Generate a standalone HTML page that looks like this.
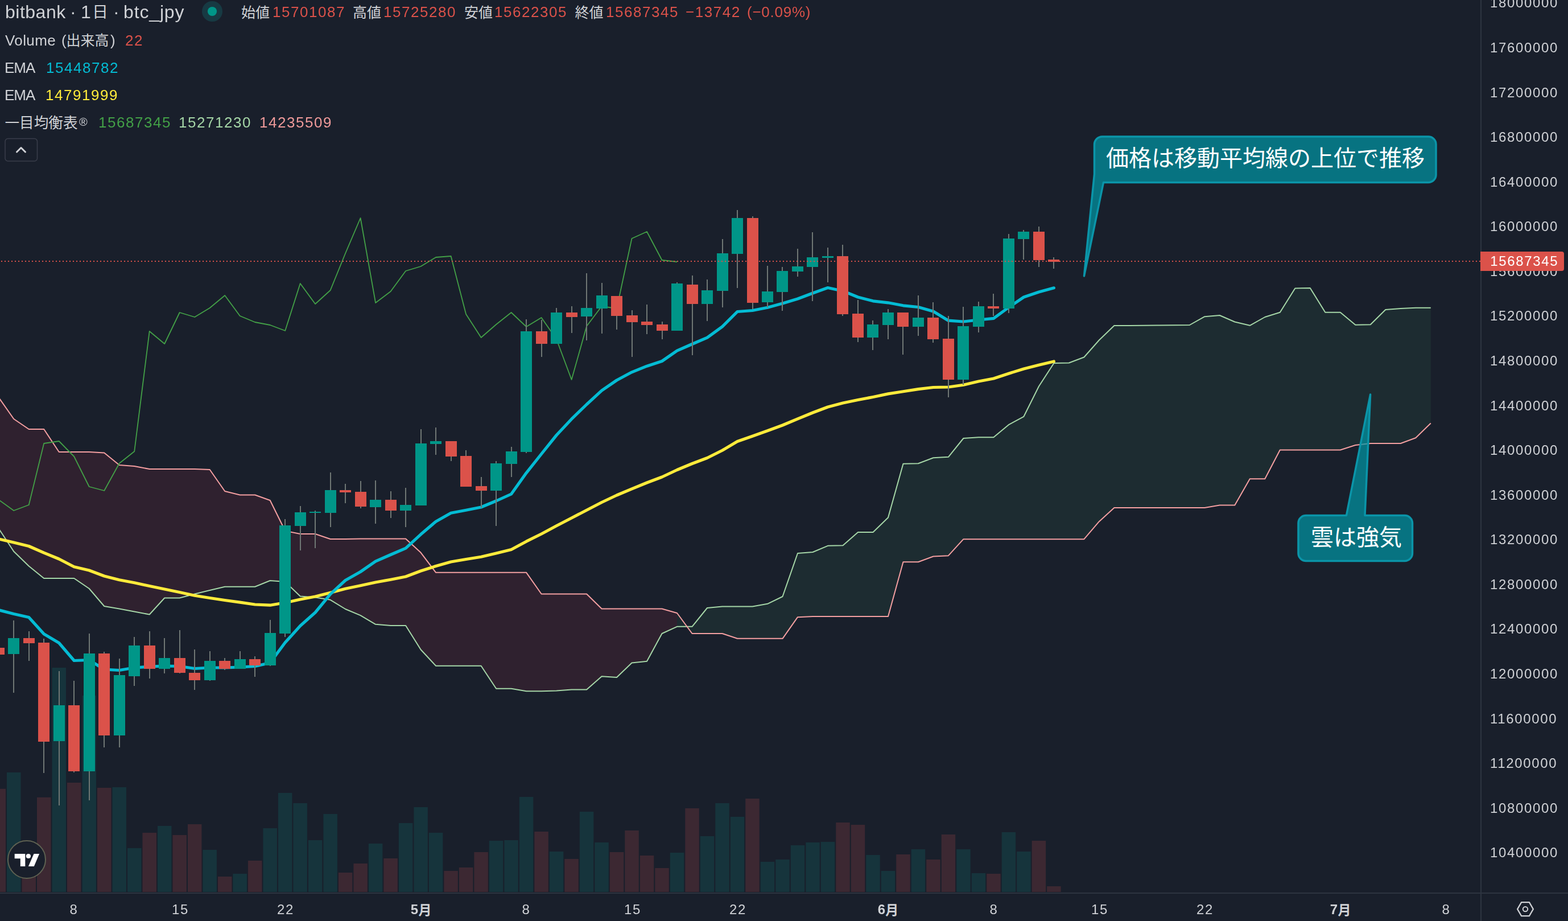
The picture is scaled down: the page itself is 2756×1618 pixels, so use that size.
<!DOCTYPE html>
<html lang="ja"><head><meta charset="utf-8"><title>bitbank btc_jpy 1D chart</title>
<style>
html,body{margin:0;padding:0;background:#191f2b;}
body{width:2756px;height:1618px;overflow:hidden;position:relative;font-family:"Liberation Sans",sans-serif;color:#d0d2d6;}
#chart{position:absolute;left:0;top:0;}
#chart text{font-family:"Liberation Sans","Noto Sans CJK JP",sans-serif;}
.t{position:absolute;white-space:nowrap;line-height:1;will-change:transform;}
.h1{font-size:32px;top:4px;}
.l{font-size:26px;letter-spacing:1.55px;}
.ax{font-size:24px;letter-spacing:1.65px;left:2619.3px;}
.tm{font-size:24px;letter-spacing:1.6px;top:1586px;transform:translateX(-50%);margin-left:0.6px;}
.red{color:#db524a}.cy{color:#04bcd4}.ye{color:#ffeb3b}.dg{color:#43a047}.lg{color:#a5d6a7}.pk{color:#ef9a9a}
</style></head><body>
<svg id="chart" width="2756" height="1618" viewBox="0 0 2756 1618">
<rect width="2756" height="1618" fill="#191f2b"/>
<defs><clipPath id="pane"><rect x="0" y="0" width="2602" height="1567"/></clipPath></defs>
<g clip-path="url(#pane)">
<polygon points="-2.2,928.6 24.2,968.8 50.7,994.5 77.2,1016.0 103.7,1016.0 130.2,1016.0 156.7,1034.0 183.2,1065.0 209.7,1069.5 236.2,1074.5 262.7,1079.5 289.2,1050.5 315.7,1050.5 342.2,1043.5 368.7,1037.0 395.2,1030.8 421.7,1030.8 448.2,1030.8 474.7,1020.0 501.2,1022.0 527.7,1047.5 554.1,1049.5 580.6,1053.8 607.1,1070.0 633.6,1081.2 660.1,1096.8 686.6,1099.0 713.1,1099.0 739.6,1141.2 766.1,1169.8 792.6,1169.8 819.1,1169.8 845.6,1169.8 872.1,1209.8 898.6,1209.8 925.1,1214.2 951.6,1214.2 978.1,1213.5 1004.6,1211.5 1031.1,1211.5 1057.6,1188.2 1084.0,1190.0 1110.5,1164.5 1137.0,1161.8 1163.5,1113.0 1190.0,1100.8 1190.0,1077.0 1163.5,1069.5 1137.0,1069.5 1110.5,1069.5 1084.0,1069.5 1057.6,1069.5 1031.1,1043.5 1004.6,1043.5 978.1,1043.5 951.6,1043.5 925.1,1005.8 898.6,1005.8 872.1,1005.8 845.6,1005.8 819.1,1005.8 792.6,1005.8 766.1,1005.8 739.6,970.8 713.1,946.5 686.6,946.5 660.1,946.5 633.6,946.5 607.1,947.0 580.6,947.0 554.1,938.0 527.7,938.0 501.2,932.5 474.7,879.0 448.2,869.5 421.7,869.5 395.2,863.0 368.7,825.0 342.2,824.0 315.7,824.0 289.2,824.0 262.7,824.0 236.2,819.0 209.7,817.0 183.2,795.5 156.7,794.0 130.2,794.0 103.7,794.0 77.2,754.0 50.7,754.0 24.2,736.0 -2.2,698.4" fill="#2f212f"/>
<polygon points="1190.0,1100.8 1216.5,1100.8 1243.0,1068.0 1269.5,1065.5 1296.0,1065.5 1322.5,1065.5 1349.0,1060.8 1375.5,1048.0 1402.0,972.0 1428.5,970.0 1455.0,958.8 1481.5,958.2 1508.0,935.0 1534.5,935.0 1561.0,909.2 1587.5,814.8 1614.0,814.2 1640.4,804.2 1666.9,802.8 1693.4,770.0 1719.9,768.2 1746.4,768.2 1772.9,746.2 1799.4,731.8 1825.9,678.8 1852.4,638.0 1878.9,637.5 1905.4,627.5 1931.9,597.5 1958.4,572.0 1984.9,572.0 2011.4,571.8 2037.9,571.5 2064.4,571.2 2090.9,571.0 2117.4,556.2 2143.8,554.0 2170.3,565.5 2196.8,571.8 2223.3,557.0 2249.8,548.8 2276.3,506.5 2302.8,506.0 2329.3,548.8 2355.8,548.8 2382.3,570.8 2408.8,570.2 2435.3,544.0 2461.8,542.0 2488.3,540.8 2514.8,540.8 2514.8,743.5 2488.3,769.2 2461.8,779.0 2435.3,779.0 2408.8,779.0 2382.3,782.0 2355.8,790.5 2329.3,790.5 2302.8,790.5 2276.3,790.5 2249.8,790.5 2223.3,841.2 2196.8,841.2 2170.3,887.5 2143.8,887.5 2117.4,892.0 2090.9,892.0 2064.4,892.0 2037.9,892.0 2011.4,892.0 1984.9,892.0 1958.4,892.0 1931.9,916.2 1905.4,947.2 1878.9,947.2 1852.4,947.2 1825.9,947.2 1799.4,947.2 1772.9,947.2 1746.4,947.2 1719.9,947.2 1693.4,947.2 1666.9,976.2 1640.4,977.5 1614.0,987.2 1587.5,987.2 1561.0,1083.0 1534.5,1083.0 1508.0,1083.0 1481.5,1083.0 1455.0,1083.0 1428.5,1083.0 1402.0,1084.2 1375.5,1121.8 1349.0,1121.8 1322.5,1121.8 1296.0,1121.8 1269.5,1113.0 1243.0,1113.0 1216.5,1113.0 1190.0,1077.0" fill="#1d2c31"/>
<rect x="-14.50" y="1385.8" width="24.5" height="181.2" fill="#3c2832"/>
<rect x="12.00" y="1357.0" width="24.5" height="210.0" fill="#16343c"/>
<rect x="38.49" y="1500.0" width="24.5" height="67.0" fill="#3c2832"/>
<rect x="64.99" y="1400.8" width="24.5" height="166.2" fill="#3c2832"/>
<rect x="91.48" y="1173.0" width="24.5" height="394.0" fill="#16343c"/>
<rect x="117.98" y="1375.0" width="24.5" height="192.0" fill="#3c2832"/>
<rect x="144.47" y="1222.0" width="24.5" height="345.0" fill="#16343c"/>
<rect x="170.97" y="1384.0" width="24.5" height="183.0" fill="#3c2832"/>
<rect x="197.46" y="1383.0" width="24.5" height="184.0" fill="#16343c"/>
<rect x="223.96" y="1490.0" width="24.5" height="77.0" fill="#16343c"/>
<rect x="250.45" y="1463.0" width="24.5" height="104.0" fill="#3c2832"/>
<rect x="276.95" y="1451.0" width="24.5" height="116.0" fill="#16343c"/>
<rect x="303.44" y="1467.0" width="24.5" height="100.0" fill="#3c2832"/>
<rect x="329.94" y="1448.0" width="24.5" height="119.0" fill="#3c2832"/>
<rect x="356.44" y="1493.0" width="24.5" height="74.0" fill="#16343c"/>
<rect x="382.93" y="1540.0" width="24.5" height="27.0" fill="#3c2832"/>
<rect x="409.42" y="1535.0" width="24.5" height="32.0" fill="#16343c"/>
<rect x="435.92" y="1512.0" width="24.5" height="55.0" fill="#3c2832"/>
<rect x="462.41" y="1455.0" width="24.5" height="112.0" fill="#16343c"/>
<rect x="488.91" y="1393.0" width="24.5" height="174.0" fill="#16343c"/>
<rect x="515.40" y="1411.0" width="24.5" height="156.0" fill="#16343c"/>
<rect x="541.90" y="1476.0" width="24.5" height="91.0" fill="#16343c"/>
<rect x="568.39" y="1430.0" width="24.5" height="137.0" fill="#16343c"/>
<rect x="594.89" y="1533.0" width="24.5" height="34.0" fill="#3c2832"/>
<rect x="621.38" y="1517.0" width="24.5" height="50.0" fill="#3c2832"/>
<rect x="647.88" y="1482.0" width="24.5" height="85.0" fill="#16343c"/>
<rect x="674.38" y="1508.0" width="24.5" height="59.0" fill="#3c2832"/>
<rect x="700.87" y="1446.0" width="24.5" height="121.0" fill="#16343c"/>
<rect x="727.37" y="1418.0" width="24.5" height="149.0" fill="#16343c"/>
<rect x="753.86" y="1463.0" width="24.5" height="104.0" fill="#16343c"/>
<rect x="780.36" y="1530.0" width="24.5" height="37.0" fill="#3c2832"/>
<rect x="806.85" y="1524.0" width="24.5" height="43.0" fill="#3c2832"/>
<rect x="833.35" y="1497.0" width="24.5" height="70.0" fill="#3c2832"/>
<rect x="859.84" y="1477.0" width="24.5" height="90.0" fill="#16343c"/>
<rect x="886.34" y="1476.0" width="24.5" height="91.0" fill="#16343c"/>
<rect x="912.83" y="1400.0" width="24.5" height="167.0" fill="#16343c"/>
<rect x="939.33" y="1461.0" width="24.5" height="106.0" fill="#3c2832"/>
<rect x="965.82" y="1496.0" width="24.5" height="71.0" fill="#16343c"/>
<rect x="992.32" y="1509.0" width="24.5" height="58.0" fill="#3c2832"/>
<rect x="1018.81" y="1426.0" width="24.5" height="141.0" fill="#16343c"/>
<rect x="1045.31" y="1480.0" width="24.5" height="87.0" fill="#16343c"/>
<rect x="1071.80" y="1497.0" width="24.5" height="70.0" fill="#3c2832"/>
<rect x="1098.30" y="1459.0" width="24.5" height="108.0" fill="#3c2832"/>
<rect x="1124.79" y="1503.0" width="24.5" height="64.0" fill="#3c2832"/>
<rect x="1151.29" y="1525.0" width="24.5" height="42.0" fill="#3c2832"/>
<rect x="1177.78" y="1498.0" width="24.5" height="69.0" fill="#16343c"/>
<rect x="1204.28" y="1420.0" width="24.5" height="147.0" fill="#3c2832"/>
<rect x="1230.77" y="1469.0" width="24.5" height="98.0" fill="#16343c"/>
<rect x="1257.27" y="1411.0" width="24.5" height="156.0" fill="#16343c"/>
<rect x="1283.76" y="1435.0" width="24.5" height="132.0" fill="#16343c"/>
<rect x="1310.26" y="1403.0" width="24.5" height="164.0" fill="#3c2832"/>
<rect x="1336.75" y="1514.0" width="24.5" height="53.0" fill="#16343c"/>
<rect x="1363.25" y="1510.0" width="24.5" height="57.0" fill="#16343c"/>
<rect x="1389.74" y="1485.0" width="24.5" height="82.0" fill="#16343c"/>
<rect x="1416.24" y="1480.0" width="24.5" height="87.0" fill="#16343c"/>
<rect x="1442.73" y="1479.0" width="24.5" height="88.0" fill="#16343c"/>
<rect x="1469.23" y="1445.0" width="24.5" height="122.0" fill="#3c2832"/>
<rect x="1495.72" y="1449.0" width="24.5" height="118.0" fill="#3c2832"/>
<rect x="1522.22" y="1502.0" width="24.5" height="65.0" fill="#16343c"/>
<rect x="1548.71" y="1530.0" width="24.5" height="37.0" fill="#16343c"/>
<rect x="1575.21" y="1501.0" width="24.5" height="66.0" fill="#3c2832"/>
<rect x="1601.70" y="1492.0" width="24.5" height="75.0" fill="#16343c"/>
<rect x="1628.20" y="1510.0" width="24.5" height="57.0" fill="#3c2832"/>
<rect x="1654.69" y="1466.0" width="24.5" height="101.0" fill="#3c2832"/>
<rect x="1681.19" y="1492.0" width="24.5" height="75.0" fill="#16343c"/>
<rect x="1707.68" y="1534.0" width="24.5" height="33.0" fill="#16343c"/>
<rect x="1734.18" y="1535.0" width="24.5" height="32.0" fill="#3c2832"/>
<rect x="1760.67" y="1462.0" width="24.5" height="105.0" fill="#16343c"/>
<rect x="1787.17" y="1496.0" width="24.5" height="71.0" fill="#16343c"/>
<rect x="1813.66" y="1477.0" width="24.5" height="90.0" fill="#3c2832"/>
<rect x="1840.15" y="1557.0" width="24.5" height="10.0" fill="#3c2832"/>
<polyline points="-2.2,928.6 24.2,968.8 50.7,994.5 77.2,1016.0 103.7,1016.0 130.2,1016.0 156.7,1034.0 183.2,1065.0 209.7,1069.5 236.2,1074.5 262.7,1079.5 289.2,1050.5 315.7,1050.5 342.2,1043.5 368.7,1037.0 395.2,1030.8 421.7,1030.8 448.2,1030.8 474.7,1020.0 501.2,1022.0 527.7,1047.5 554.1,1049.5 580.6,1053.8 607.1,1070.0 633.6,1081.2 660.1,1096.8 686.6,1099.0 713.1,1099.0 739.6,1141.2 766.1,1169.8 792.6,1169.8 819.1,1169.8 845.6,1169.8 872.1,1209.8 898.6,1209.8 925.1,1214.2 951.6,1214.2 978.1,1213.5 1004.6,1211.5 1031.1,1211.5 1057.6,1188.2 1084.0,1190.0 1110.5,1164.5 1137.0,1161.8 1163.5,1113.0 1190.0,1100.8 1216.5,1100.8 1243.0,1068.0 1269.5,1065.5 1296.0,1065.5 1322.5,1065.5 1349.0,1060.8 1375.5,1048.0 1402.0,972.0 1428.5,970.0 1455.0,958.8 1481.5,958.2 1508.0,935.0 1534.5,935.0 1561.0,909.2 1587.5,814.8 1614.0,814.2 1640.4,804.2 1666.9,802.8 1693.4,770.0 1719.9,768.2 1746.4,768.2 1772.9,746.2 1799.4,731.8 1825.9,678.8 1852.4,638.0 1878.9,637.5 1905.4,627.5 1931.9,597.5 1958.4,572.0 1984.9,572.0 2011.4,571.8 2037.9,571.5 2064.4,571.2 2090.9,571.0 2117.4,556.2 2143.8,554.0 2170.3,565.5 2196.8,571.8 2223.3,557.0 2249.8,548.8 2276.3,506.5 2302.8,506.0 2329.3,548.8 2355.8,548.8 2382.3,570.8 2408.8,570.2 2435.3,544.0 2461.8,542.0 2488.3,540.8 2514.8,540.8" fill="none" stroke="#a5d6a7" stroke-width="2" stroke-linejoin="round" />
<polyline points="-2.2,698.4 24.2,736.0 50.7,754.0 77.2,754.0 103.7,794.0 130.2,794.0 156.7,794.0 183.2,795.5 209.7,817.0 236.2,819.0 262.7,824.0 289.2,824.0 315.7,824.0 342.2,824.0 368.7,825.0 395.2,863.0 421.7,869.5 448.2,869.5 474.7,879.0 501.2,932.5 527.7,938.0 554.1,938.0 580.6,947.0 607.1,947.0 633.6,946.5 660.1,946.5 686.6,946.5 713.1,946.5 739.6,970.8 766.1,1005.8 792.6,1005.8 819.1,1005.8 845.6,1005.8 872.1,1005.8 898.6,1005.8 925.1,1005.8 951.6,1043.5 978.1,1043.5 1004.6,1043.5 1031.1,1043.5 1057.6,1069.5 1084.0,1069.5 1110.5,1069.5 1137.0,1069.5 1163.5,1069.5 1190.0,1077.0 1216.5,1113.0 1243.0,1113.0 1269.5,1113.0 1296.0,1121.8 1322.5,1121.8 1349.0,1121.8 1375.5,1121.8 1402.0,1084.2 1428.5,1083.0 1455.0,1083.0 1481.5,1083.0 1508.0,1083.0 1534.5,1083.0 1561.0,1083.0 1587.5,987.2 1614.0,987.2 1640.4,977.5 1666.9,976.2 1693.4,947.2 1719.9,947.2 1746.4,947.2 1772.9,947.2 1799.4,947.2 1825.9,947.2 1852.4,947.2 1878.9,947.2 1905.4,947.2 1931.9,916.2 1958.4,892.0 1984.9,892.0 2011.4,892.0 2037.9,892.0 2064.4,892.0 2090.9,892.0 2117.4,892.0 2143.8,887.5 2170.3,887.5 2196.8,841.2 2223.3,841.2 2249.8,790.5 2276.3,790.5 2302.8,790.5 2329.3,790.5 2355.8,790.5 2382.3,782.0 2408.8,779.0 2435.3,779.0 2461.8,779.0 2488.3,769.2 2514.8,743.5" fill="none" stroke="#f49fa1" stroke-width="2" stroke-linejoin="round" />
<polyline points="-2.2,878.0 24.2,897.0 50.7,887.0 77.2,779.0 103.7,775.0 130.2,802.0 156.7,855.0 183.2,862.0 209.7,814.0 236.2,793.0 262.7,582.0 289.2,604.0 315.7,549.0 342.2,557.0 368.7,541.0 395.2,519.0 421.7,555.0 448.2,566.0 474.7,571.0 501.2,581.0 527.7,498.0 554.1,534.0 580.6,510.0 607.1,445.0 633.6,383.0 660.1,532.0 686.6,512.0 713.1,476.0 739.6,468.0 766.1,452.0 792.6,450.0 819.1,552.0 845.6,593.0 872.1,570.0 898.6,549.0 925.1,574.0 951.6,558.0 978.1,596.0 1004.6,667.0 1031.1,573.0 1057.6,538.0 1084.0,542.0 1110.5,419.0 1137.0,407.0 1163.5,457.0 1190.0,460.0" fill="none" stroke="#43a047" stroke-width="1.8" stroke-linejoin="round"/>
<polyline points="-2.2,946.8 24.2,953.0 50.7,959.5 77.2,971.2 103.7,982.0 130.2,995.8 156.7,1002.0 183.2,1012.0 209.7,1018.8 236.2,1023.8 262.7,1029.5 289.2,1035.0 315.7,1040.5 342.2,1046.2 368.7,1050.5 395.2,1054.5 421.7,1058.2 448.2,1062.0 474.7,1063.2 501.2,1058.8 527.7,1053.0 554.1,1048.0 580.6,1041.2 607.1,1034.2 633.6,1028.8 660.1,1023.0 686.6,1018.2 713.1,1013.0 739.6,1003.0 766.1,994.5 792.6,987.0 819.1,982.5 845.6,978.2 872.1,972.0 898.6,965.5 925.1,951.2 951.6,938.0 978.1,923.8 1004.6,910.0 1031.1,896.2 1057.6,882.5 1084.0,870.0 1110.5,858.8 1137.0,848.0 1163.5,838.0 1190.0,825.5 1216.5,814.5 1243.0,804.5 1269.5,791.2 1296.0,775.5 1322.5,766.2 1349.0,756.8 1375.5,747.0 1402.0,735.8 1428.5,725.0 1455.0,715.0 1481.5,708.0 1508.0,702.5 1534.5,697.5 1561.0,691.9 1587.5,687.8 1614.0,683.6 1640.4,680.5 1666.9,680.0 1693.4,676.2 1719.9,670.0 1746.4,665.0 1772.9,656.2 1799.4,648.0 1825.9,641.2 1852.4,635.0" fill="none" stroke="#ffeb3b" stroke-width="5.2" stroke-linejoin="round" stroke-linecap="round"/>
<polyline points="-2.2,1071.7 24.2,1078.5 50.7,1084.5 77.2,1113.8 103.7,1129.5 130.2,1160.5 156.7,1159.5 183.2,1176.0 209.7,1177.5 236.2,1173.0 262.7,1171.2 289.2,1170.0 315.7,1170.5 342.2,1174.5 368.7,1173.0 395.2,1173.0 421.7,1172.0 448.2,1170.5 474.7,1164.5 501.2,1128.8 527.7,1099.5 554.1,1076.0 580.6,1043.8 607.1,1019.5 633.6,1004.5 660.1,986.2 686.6,974.5 713.1,963.2 739.6,938.8 766.1,916.2 792.6,901.2 819.1,896.2 845.6,891.0 872.1,880.0 898.6,868.0 925.1,830.8 951.6,797.5 978.1,764.5 1004.6,736.2 1031.1,710.5 1057.6,686.2 1084.0,668.0 1110.5,653.8 1137.0,643.2 1163.5,634.5 1190.0,616.2 1216.5,604.5 1243.0,593.2 1269.5,573.8 1296.0,547.5 1322.5,545.5 1349.0,540.3 1375.5,533.0 1402.0,525.0 1428.5,515.0 1455.0,505.5 1481.5,511.2 1508.0,522.0 1534.5,528.8 1561.0,531.8 1587.5,536.8 1614.0,539.5 1640.4,547.0 1666.9,563.2 1693.4,565.0 1719.9,562.0 1746.4,559.3 1772.9,540.0 1799.4,522.0 1825.9,513.0 1852.4,505.8" fill="none" stroke="#04bcd4" stroke-width="5.2" stroke-linejoin="round" stroke-linecap="round"/>
<rect x="-3" y="1138" width="2" height="12" fill="#6f7774"/>
<rect x="-12" y="1138" width="20" height="12" fill="#db524a"/>
<rect x="23" y="1090" width="2" height="127" fill="#6f7774"/>
<rect x="14" y="1121" width="20" height="28" fill="#009688"/>
<rect x="50" y="1109" width="2" height="52" fill="#6f7774"/>
<rect x="41" y="1121" width="20" height="9" fill="#db524a"/>
<rect x="76" y="1122" width="2" height="236" fill="#6f7774"/>
<rect x="67" y="1129" width="20" height="174" fill="#db524a"/>
<rect x="103" y="1179" width="2" height="236" fill="#6f7774"/>
<rect x="94" y="1239" width="20" height="63" fill="#009688"/>
<rect x="129" y="1196" width="2" height="161" fill="#6f7774"/>
<rect x="120" y="1239" width="20" height="116" fill="#db524a"/>
<rect x="156" y="1113" width="2" height="293" fill="#6f7774"/>
<rect x="147" y="1148" width="20" height="207" fill="#009688"/>
<rect x="182" y="1145" width="2" height="168" fill="#6f7774"/>
<rect x="173" y="1148" width="20" height="144" fill="#db524a"/>
<rect x="209" y="1157" width="2" height="156" fill="#6f7774"/>
<rect x="200" y="1186" width="20" height="106" fill="#009688"/>
<rect x="235" y="1119" width="2" height="86" fill="#6f7774"/>
<rect x="226" y="1134" width="20" height="54" fill="#009688"/>
<rect x="262" y="1109" width="2" height="83" fill="#6f7774"/>
<rect x="253" y="1134" width="20" height="41" fill="#db524a"/>
<rect x="288" y="1121" width="2" height="62" fill="#6f7774"/>
<rect x="279" y="1156" width="20" height="19" fill="#009688"/>
<rect x="315" y="1107" width="2" height="76" fill="#6f7774"/>
<rect x="306" y="1156" width="20" height="26" fill="#db524a"/>
<rect x="341" y="1141" width="2" height="71" fill="#6f7774"/>
<rect x="332" y="1182" width="20" height="13" fill="#db524a"/>
<rect x="368" y="1144" width="2" height="52" fill="#6f7774"/>
<rect x="359" y="1161" width="20" height="34" fill="#009688"/>
<rect x="394" y="1156" width="2" height="21" fill="#6f7774"/>
<rect x="385" y="1161" width="20" height="14" fill="#db524a"/>
<rect x="421" y="1144" width="2" height="31" fill="#6f7774"/>
<rect x="412" y="1158" width="20" height="17" fill="#009688"/>
<rect x="447" y="1153" width="2" height="36" fill="#6f7774"/>
<rect x="438" y="1158" width="20" height="11" fill="#db524a"/>
<rect x="474" y="1089" width="2" height="81" fill="#6f7774"/>
<rect x="465" y="1112" width="20" height="57" fill="#009688"/>
<rect x="500" y="912" width="2" height="207" fill="#6f7774"/>
<rect x="491" y="923" width="20" height="190" fill="#009688"/>
<rect x="527" y="889" width="2" height="78" fill="#6f7774"/>
<rect x="518" y="900" width="20" height="24" fill="#009688"/>
<rect x="553" y="897" width="2" height="66" fill="#6f7774"/>
<rect x="544" y="899" width="20" height="2" fill="#009688"/>
<rect x="580" y="830" width="2" height="96" fill="#6f7774"/>
<rect x="571" y="861" width="20" height="40" fill="#009688"/>
<rect x="606" y="850" width="2" height="34" fill="#6f7774"/>
<rect x="597" y="861" width="20" height="4" fill="#db524a"/>
<rect x="633" y="845" width="2" height="48" fill="#6f7774"/>
<rect x="624" y="864" width="20" height="26" fill="#db524a"/>
<rect x="659" y="844" width="2" height="76" fill="#6f7774"/>
<rect x="650" y="878" width="20" height="13" fill="#009688"/>
<rect x="686" y="863" width="2" height="47" fill="#6f7774"/>
<rect x="677" y="878" width="20" height="19" fill="#db524a"/>
<rect x="712" y="857" width="2" height="69" fill="#6f7774"/>
<rect x="703" y="887" width="20" height="10" fill="#009688"/>
<rect x="739" y="754" width="2" height="134" fill="#6f7774"/>
<rect x="730" y="779" width="20" height="109" fill="#009688"/>
<rect x="765" y="751" width="2" height="48" fill="#6f7774"/>
<rect x="756" y="775" width="20" height="5" fill="#009688"/>
<rect x="792" y="775" width="2" height="35" fill="#6f7774"/>
<rect x="783" y="775" width="20" height="27" fill="#db524a"/>
<rect x="818" y="791" width="2" height="64" fill="#6f7774"/>
<rect x="809" y="801" width="20" height="54" fill="#db524a"/>
<rect x="845" y="838" width="2" height="54" fill="#6f7774"/>
<rect x="836" y="854" width="20" height="8" fill="#db524a"/>
<rect x="871" y="810" width="2" height="114" fill="#6f7774"/>
<rect x="862" y="814" width="20" height="48" fill="#009688"/>
<rect x="898" y="785" width="2" height="53" fill="#6f7774"/>
<rect x="889" y="793" width="20" height="22" fill="#009688"/>
<rect x="924" y="561" width="2" height="235" fill="#6f7774"/>
<rect x="915" y="582" width="20" height="212" fill="#009688"/>
<rect x="951" y="562" width="2" height="65" fill="#6f7774"/>
<rect x="942" y="582" width="20" height="22" fill="#db524a"/>
<rect x="977" y="541" width="2" height="63" fill="#6f7774"/>
<rect x="968" y="549" width="20" height="55" fill="#009688"/>
<rect x="1004" y="538" width="2" height="47" fill="#6f7774"/>
<rect x="995" y="549" width="20" height="8" fill="#db524a"/>
<rect x="1030" y="480" width="2" height="118" fill="#6f7774"/>
<rect x="1021" y="541" width="20" height="15" fill="#009688"/>
<rect x="1057" y="497" width="2" height="89" fill="#6f7774"/>
<rect x="1048" y="519" width="20" height="23" fill="#009688"/>
<rect x="1083" y="520" width="2" height="59" fill="#6f7774"/>
<rect x="1074" y="520" width="20" height="35" fill="#db524a"/>
<rect x="1110" y="545" width="2" height="82" fill="#6f7774"/>
<rect x="1101" y="554" width="20" height="12" fill="#db524a"/>
<rect x="1136" y="535" width="2" height="52" fill="#6f7774"/>
<rect x="1127" y="565" width="20" height="6" fill="#db524a"/>
<rect x="1163" y="565" width="2" height="31" fill="#6f7774"/>
<rect x="1154" y="570" width="20" height="11" fill="#db524a"/>
<rect x="1189" y="496" width="2" height="85" fill="#6f7774"/>
<rect x="1180" y="498" width="20" height="83" fill="#009688"/>
<rect x="1216" y="484" width="2" height="140" fill="#6f7774"/>
<rect x="1207" y="500" width="20" height="34" fill="#db524a"/>
<rect x="1242" y="491" width="2" height="73" fill="#6f7774"/>
<rect x="1233" y="510" width="20" height="24" fill="#009688"/>
<rect x="1269" y="420" width="2" height="120" fill="#6f7774"/>
<rect x="1260" y="445" width="20" height="66" fill="#009688"/>
<rect x="1295" y="369" width="2" height="137" fill="#6f7774"/>
<rect x="1286" y="383" width="20" height="63" fill="#009688"/>
<rect x="1322" y="380" width="2" height="163" fill="#6f7774"/>
<rect x="1313" y="383" width="20" height="149" fill="#db524a"/>
<rect x="1348" y="467" width="2" height="73" fill="#6f7774"/>
<rect x="1339" y="512" width="20" height="19" fill="#009688"/>
<rect x="1374" y="469" width="2" height="77" fill="#6f7774"/>
<rect x="1365" y="476" width="20" height="37" fill="#009688"/>
<rect x="1401" y="437" width="2" height="49" fill="#6f7774"/>
<rect x="1392" y="468" width="20" height="9" fill="#009688"/>
<rect x="1427" y="408" width="2" height="121" fill="#6f7774"/>
<rect x="1418" y="452" width="20" height="17" fill="#009688"/>
<rect x="1454" y="435" width="2" height="61" fill="#6f7774"/>
<rect x="1445" y="450" width="20" height="3" fill="#009688"/>
<rect x="1480" y="430" width="2" height="125" fill="#6f7774"/>
<rect x="1471" y="450" width="20" height="102" fill="#db524a"/>
<rect x="1507" y="527" width="2" height="74" fill="#6f7774"/>
<rect x="1498" y="551" width="20" height="42" fill="#db524a"/>
<rect x="1533" y="563" width="2" height="52" fill="#6f7774"/>
<rect x="1524" y="570" width="20" height="23" fill="#009688"/>
<rect x="1560" y="543" width="2" height="53" fill="#6f7774"/>
<rect x="1551" y="549" width="20" height="22" fill="#009688"/>
<rect x="1586" y="549" width="2" height="74" fill="#6f7774"/>
<rect x="1577" y="549" width="20" height="25" fill="#db524a"/>
<rect x="1613" y="519" width="2" height="71" fill="#6f7774"/>
<rect x="1604" y="558" width="20" height="16" fill="#009688"/>
<rect x="1639" y="531" width="2" height="71" fill="#6f7774"/>
<rect x="1630" y="558" width="20" height="38" fill="#db524a"/>
<rect x="1666" y="555" width="2" height="143" fill="#6f7774"/>
<rect x="1657" y="595" width="20" height="72" fill="#db524a"/>
<rect x="1692" y="539" width="2" height="137" fill="#6f7774"/>
<rect x="1683" y="573" width="20" height="94" fill="#009688"/>
<rect x="1719" y="530" width="2" height="54" fill="#6f7774"/>
<rect x="1710" y="538" width="20" height="36" fill="#009688"/>
<rect x="1745" y="516" width="2" height="39" fill="#6f7774"/>
<rect x="1736" y="538" width="20" height="4" fill="#db524a"/>
<rect x="1772" y="411" width="2" height="139" fill="#6f7774"/>
<rect x="1763" y="419" width="20" height="123" fill="#009688"/>
<rect x="1798" y="404" width="2" height="52" fill="#6f7774"/>
<rect x="1789" y="407" width="20" height="13" fill="#009688"/>
<rect x="1825" y="398" width="2" height="71" fill="#6f7774"/>
<rect x="1816" y="407" width="20" height="50" fill="#db524a"/>
<rect x="1851" y="452" width="2" height="20" fill="#6f7774"/>
<rect x="1842" y="456" width="20" height="4" fill="#db524a"/>
<line x1="2" y1="459" x2="2602" y2="459" stroke="#db524a" stroke-width="2" stroke-dasharray="2 4"/>
</g>
<path d="M1937.5,240 H2510.5 a13.5,13.5 0 0 1 13.5,13.5 V307 a13.5,13.5 0 0 1 -13.5,13.5 H1939.5 L1905.5,485 L1923.5,306 V254 a14,14 0 0 1 14,-14 Z" fill="rgba(0,151,167,0.7)" stroke="#0b95a9" stroke-width="3.5" stroke-linejoin="round"/>
<path d="M2295.5,905.5 H2366.5 L2408.6,693 L2399,905.5 H2469 a13.5,13.5 0 0 1 13.5,13.5 V972 a13.5,13.5 0 0 1 -13.5,13.5 H2295.5 a13.5,13.5 0 0 1 -13.5,-13.5 V919 a13.5,13.5 0 0 1 13.5,-13.5 Z" fill="rgba(0,151,167,0.7)" stroke="#0b95a9" stroke-width="3.5" stroke-linejoin="round"/>
<text x="1944" y="292" font-size="40" fill="#fff">価格は移動平均線の上位で推移</text>
<text x="2304" y="957.5" font-size="40" fill="#fff">雲は強気</text>
<rect x="2602" y="0" width="2" height="1618" fill="#2d3440"/>
<rect x="0" y="1568" width="2756" height="2" fill="#2d3440"/>
<polygon points="2694.9,1597.1 2687.9,1609.1 2674.1,1609.1 2667.1,1597.1 2674.1,1585.1 2687.9,1585.1" fill="none" stroke="#d0d2d6" stroke-width="2.2" stroke-linejoin="round"/>
<circle cx="2681" cy="1597.1" r="4.2" fill="none" stroke="#d0d2d6" stroke-width="2"/>
<circle cx="47" cy="1510" r="33" fill="#191f2b" stroke="#5f6252" stroke-width="2"/>
<path d="M25.7,1500 H44.3 V1522 H35.8 V1508.2 H25.7 Z M59.5,1500 H69.1 L59.8,1522 H49.9 Z" fill="#fff"/><circle cx="49.9" cy="1504" r="4.1" fill="#fff"/>
<circle cx="373" cy="20" r="18" fill="#173a43"/><circle cx="373" cy="20" r="8.1" fill="#009688"/>
<rect x="9" y="243.5" width="56.5" height="39.5" rx="5" fill="none" stroke="#3a3e4b" stroke-width="1.5"/>
<polyline points="29.5,267 37,259.5 44.5,267" fill="none" stroke="#d0d2d6" stroke-width="3" stroke-linecap="round" stroke-linejoin="round"/>
<text x="162" y="31" font-size="28" fill="#d0d2d6">日</text>
<text x="424" y="30.5" font-size="25" fill="#d0d2d6">始値</text>
<text x="620" y="30.5" font-size="25" fill="#d0d2d6">高値</text>
<text x="816" y="30.5" font-size="25" fill="#d0d2d6">安値</text>
<text x="1010.5" y="30.5" font-size="25" fill="#d0d2d6">終値</text>
<text x="116.5" y="80" font-size="25" fill="#d0d2d6">出来高</text>
<text x="8.5" y="224.5" font-size="25.6" fill="#d0d2d6">一目均衡表</text>
<text x="735.5" y="1606.5" font-size="23" font-weight="bold" fill="#d0d2d6">月</text>
<text x="1556.2" y="1606.5" font-size="23" font-weight="bold" fill="#d0d2d6">月</text>
<text x="2351.4" y="1606.5" font-size="23" font-weight="bold" fill="#d0d2d6">月</text>
</svg>
<div class="t h1" style="left:8.5px;top:4.7px;letter-spacing:0.5px">bitbank</div>
<div class="t h1" style="left:123px;top:4.7px;">·</div>
<div class="t h1" style="left:142px;top:4.7px;">1</div>
<div class="t h1" style="left:199px;top:4.7px;">·</div>
<div class="t h1" style="left:216.5px;top:4.7px;letter-spacing:0.85px">btc_jpy</div>
<div class="t l red" style="left:478.7px;top:8.3px;">15701087</div>
<div class="t l red" style="left:674.2px;top:8.3px;">15725280</div>
<div class="t l red" style="left:869.2px;top:8.3px;">15622305</div>
<div class="t l red" style="left:1065.2px;top:8.3px;">15687345</div>
<div class="t l red" style="left:1205.2px;top:8.3px;">−13742</div>
<div class="t l red" style="left:1312.7px;top:8.3px;letter-spacing:0.75px">(−0.09%)</div>
<div class="t l" style="left:9px;top:57.5px;letter-spacing:0.4px">Volume</div>
<div class="t l" style="left:107.5px;top:57.5px;">(</div>
<div class="t l" style="left:193.5px;top:57.5px;">)</div>
<div class="t l red" style="left:219.7px;top:57.5px;">22</div>
<div class="t l" style="left:8px;top:105.5px;letter-spacing:-1px">EMA</div>
<div class="t l cy" style="left:80.7px;top:105.5px;">15448782</div>
<div class="t l" style="left:8px;top:153.5px;letter-spacing:-1px">EMA</div>
<div class="t l ye" style="left:80.4px;top:153.5px;">14791999</div>
<div class="t l" style="left:139.3px;top:204px;font-size:20px;letter-spacing:0">®</div>
<div class="t l dg" style="left:172.7px;top:201.7px;">15687345</div>
<div class="t l lg" style="left:314.2px;top:201.7px;">15271230</div>
<div class="t l pk" style="left:456.2px;top:201.7px;">14235509</div>
<div class="t ax" style="left:2619.3px;top:-6.7px;">18000000</div>
<div class="t ax" style="left:2619.3px;top:71.9px;">17600000</div>
<div class="t ax" style="left:2619.3px;top:150.5px;">17200000</div>
<div class="t ax" style="left:2619.3px;top:229.1px;">16800000</div>
<div class="t ax" style="left:2619.3px;top:307.6px;">16400000</div>
<div class="t ax" style="left:2619.3px;top:386.2px;">16000000</div>
<div class="t ax" style="left:2619.3px;top:464.8px;">15600000</div>
<div class="t ax" style="left:2619.3px;top:543.4px;">15200000</div>
<div class="t ax" style="left:2619.3px;top:622.0px;">14800000</div>
<div class="t ax" style="left:2619.3px;top:700.5px;">14400000</div>
<div class="t ax" style="left:2619.3px;top:779.1px;">14000000</div>
<div class="t ax" style="left:2619.3px;top:857.7px;">13600000</div>
<div class="t ax" style="left:2619.3px;top:936.3px;">13200000</div>
<div class="t ax" style="left:2619.3px;top:1014.9px;">12800000</div>
<div class="t ax" style="left:2619.3px;top:1093.4px;">12400000</div>
<div class="t ax" style="left:2619.3px;top:1172.0px;">12000000</div>
<div class="t ax" style="left:2619.3px;top:1250.6px;">11600000</div>
<div class="t ax" style="left:2619.3px;top:1329.2px;">11200000</div>
<div class="t ax" style="left:2619.3px;top:1407.8px;">10800000</div>
<div class="t ax" style="left:2619.3px;top:1486.3px;">10400000</div>
<div class="t ax" style="left:2602px;top:442px;width:130px;height:29px;padding:5px 0 0 17.3px;background:#db524a;border-radius:0 4px 4px 0;color:#fff">15687345</div>
<div class="t tm" style="left:129.6px">8</div>
<div class="t tm" style="left:316px">15</div>
<div class="t tm" style="left:501px">22</div>
<div class="t tm" style="left:924.7px">8</div>
<div class="t tm" style="left:1111.2px">15</div>
<div class="t tm" style="left:1296px">22</div>
<div class="t tm" style="left:1746.6px">8</div>
<div class="t tm" style="left:1932.5px">15</div>
<div class="t tm" style="left:2117.3px">22</div>
<div class="t tm" style="left:2541px">8</div>
<div class="t tm" style="left:729.3px;font-weight:bold">5<span style="visibility:hidden;font-size:0">月</span></div>
<div class="t tm" style="left:1550px;font-weight:bold">6<span style="visibility:hidden;font-size:0">月</span></div>
<div class="t tm" style="left:2345.2px;font-weight:bold">7<span style="visibility:hidden;font-size:0">月</span></div>
</body></html>
